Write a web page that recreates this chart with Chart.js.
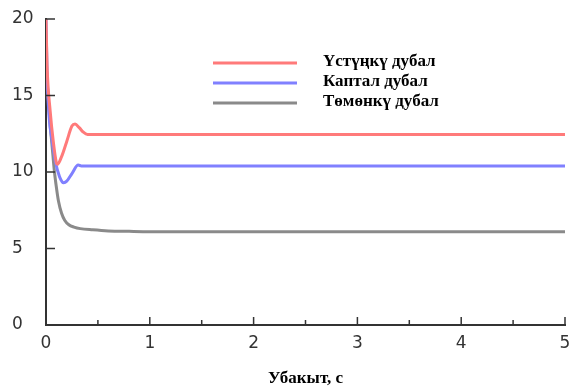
<!DOCTYPE html>
<html>
<head>
<meta charset="utf-8">
<script src="https://cdn.jsdelivr.net/npm/chart.js@4/dist/chart.umd.min.js"></script>
<style>
html,body{margin:0;padding:0;background:#fff;}
#wrap{width:572px;height:387px;position:relative;}
</style>
</head>
<body>
<div id="wrap"><canvas id="c" width="572" height="387"></canvas></div>
<script>
// ---- data ----
const seriesNames = ["Үстүңкү дубал", "Каптал дубал", "Төмөнкү дубал"];
const xTitle = "Убакыт, с";
const yTicks = [0, 5, 10, 15, 20];
const xTicks = [0, 1, 2, 3, 4, 5];

const topTime   = [0, 0.01, 0.04, 0.07, 0.1, 0.11, 0.15, 0.2, 0.25, 0.28, 0.32, 0.36, 0.4, 1, 2, 3, 4, 5];
const topValues = [20, 17, 14, 12, 10.6, 10.5, 11.0, 12.0, 13.0, 13.13, 12.9, 12.6, 12.45, 12.45, 12.45, 12.45, 12.45, 12.45];

const sideTime   = [0, 0.01, 0.03, 0.06, 0.09, 0.13, 0.17, 0.2, 0.25, 0.31, 0.34, 1, 2, 3, 4, 5];
const sideValues = [20, 16.5, 13.6, 12.0, 10.7, 9.7, 9.3, 9.4, 9.9, 10.45, 10.4, 10.4, 10.4, 10.4, 10.4, 10.4];

const bottomTime   = [0, 0.02, 0.04, 0.06, 0.08, 0.1, 0.12, 0.15, 0.18, 0.22, 0.27, 0.33, 0.45, 0.6, 0.8, 1, 2, 3, 4, 5];
const bottomValues = [16.8, 15.0, 13.1, 11.6, 10.1, 9.0, 8.1, 7.3, 6.85, 6.55, 6.4, 6.3, 6.22, 6.15, 6.12, 6.1, 6.1, 6.1, 6.1, 6.1];

const colors = ["rgb(255,122,122)", "rgb(128,128,255)", "rgb(138,138,138)"];

function pts(t, v) { return t.map((x, i) => ({x: x, y: v[i]})); }

const legendPlugin = {
  id: 'innerLegend',
  afterDraw(chart) {
    const ctx = chart.ctx;
    ctx.save();
    const ys = [63, 83, 103];
    seriesNames.forEach((name, i) => {
      ctx.strokeStyle = colors[i];
      ctx.lineWidth = 3;
      ctx.beginPath();
      ctx.moveTo(213, ys[i]);
      ctx.lineTo(297, ys[i]);
      ctx.stroke();
      ctx.fillStyle = "#000";
      ctx.font = "bold 17px 'Liberation Serif'";
      ctx.textBaseline = "middle";
      ctx.textAlign = "left";
      ctx.fillText(name, 323, ys[i] - 1);
    });
    ctx.restore();
  }
};

const tickPlugin = {
  id: 'innerTicks',
  afterDraw(chart) {
    const ctx = chart.ctx;
    const xs = chart.scales.x, ys = chart.scales.y;
    ctx.save();
    ctx.strokeStyle = "#333";
    ctx.lineWidth = 1.5;
    const bottom = ys.getPixelForValue(0);
    const left = xs.getPixelForValue(0);
    for (let v = 0.5; v <= 5.0001; v += 0.5) {
      const px = xs.getPixelForValue(v);
      const len = Math.abs(v - Math.round(v)) < 1e-6 ? 8 : 5;
      ctx.beginPath();
      ctx.moveTo(px, bottom);
      ctx.lineTo(px, bottom - len);
      ctx.stroke();
    }
    yTicks.forEach(v => {
      if (v === 0) return;
      const py = ys.getPixelForValue(v);
      ctx.beginPath();
      ctx.moveTo(left, py);
      ctx.lineTo(left + 9, py);
      ctx.stroke();
    });
    ctx.restore();
  }
};

new Chart(document.getElementById('c'), {
  type: 'line',
  data: {
    datasets: [
      {label: seriesNames[0], data: pts(topTime, topValues), borderColor: colors[0]},
      {label: seriesNames[1], data: pts(sideTime, sideValues), borderColor: colors[1]},
      {label: seriesNames[2], data: pts(bottomTime, bottomValues), borderColor: colors[2]}
    ]
  },
  options: {
    responsive: false,
    animation: false,
    events: [],
    layout: {padding: {left: 12, right: 7, top: 19, bottom: 0}},
    elements: {
      line: {borderWidth: 3, cubicInterpolationMode: 'monotone', fill: false},
      point: {radius: 0}
    },
    plugins: {legend: {display: false}, tooltip: {enabled: false}},
    scales: {
      x: {
        type: 'linear', min: 0, max: 5,
        afterBuildTicks(s) { s.ticks = xTicks.map(v => ({value: v})); },
        afterFit(s) { s.height = 62; s.paddingRight = 0; s.paddingLeft = 0; },
        grid: {display: false, drawTicks: false},
        border: {display: true, color: '#333', width: 2},
        ticks: {color: '#333', font: {family: 'DejaVu Sans', size: 17}, padding: 8, maxRotation: 0},
        title: {display: true, text: xTitle, color: '#000',
                font: {family: 'Liberation Serif', size: 17, weight: 'bold', lineHeight: 1}, padding: {top: 4, bottom: 0}}
      },
      y: {
        type: 'linear', min: 0, max: 20,
        afterBuildTicks(s) { s.ticks = yTicks.map(v => ({value: v})); },
        afterFit(s) { s.width = 34; s.paddingTop = 0; s.paddingBottom = 0; },
        grid: {display: false, drawTicks: false},
        border: {display: true, color: '#333', width: 2},
        ticks: {color: '#333', font: {family: 'DejaVu Sans', size: 17}, padding: 13, crossAlign: 'far'}
      }
    }
  },
  plugins: [legendPlugin, tickPlugin]
});
</script>
</body>
</html>
